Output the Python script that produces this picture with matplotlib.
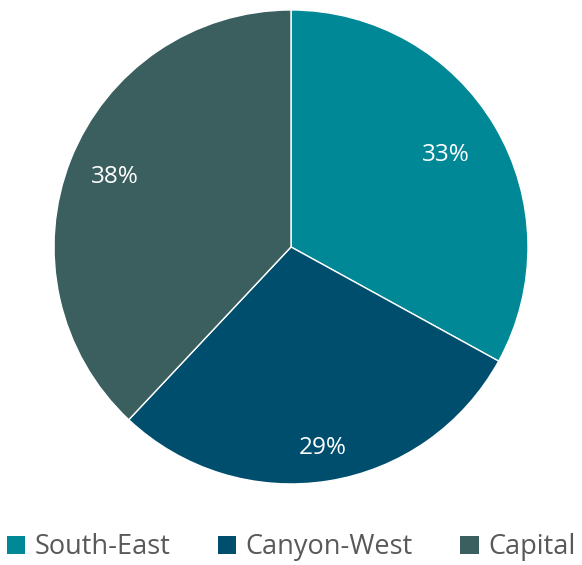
import matplotlib.pyplot as plt
import numpy as np

regions = ["South-East", "Canyon-West", "Capital"]
shares = [33, 29, 38]
colors = ["#008896", "#004E6E", "#3A5F5E"]
label_radius = [0.76, 0.86, 0.80]

plt.rcParams['font.family'] = ['Open Sans', 'DejaVu Sans']

fig = plt.figure(figsize=(5.82, 5.65), dpi=100)
ax = fig.add_axes([0.0928, 0.1434, 0.8144, 0.839])

wedges, _ = ax.pie(shares, colors=colors, startangle=90, counterclock=False,
                   wedgeprops=dict(edgecolor='white', linewidth=1))
ax.set_xlim(-1, 1)
ax.set_ylim(-1, 1)
ax.set_aspect('equal')

# percentage labels at the middle angle of each wedge
for w, v, r in zip(wedges, shares, label_radius):
    mid = np.deg2rad((w.theta1 + w.theta2) / 2)
    ax.text(r * np.cos(mid), r * np.sin(mid), f"{v}%", ha='center', va='center',
            color='white', fontsize=17.5)

leg = fig.legend(wedges, regions, loc='center', bbox_to_anchor=(0.5, 0.031), ncol=3,
                 frameon=False, fontsize=19.5, handlelength=0.68, handleheight=0.68,
                 handletextpad=0.35, columnspacing=1.75, labelcolor='#595959')
for h in leg.legend_handles:
    h.set_edgecolor('none')

fig.savefig('out.png', dpi=100)
